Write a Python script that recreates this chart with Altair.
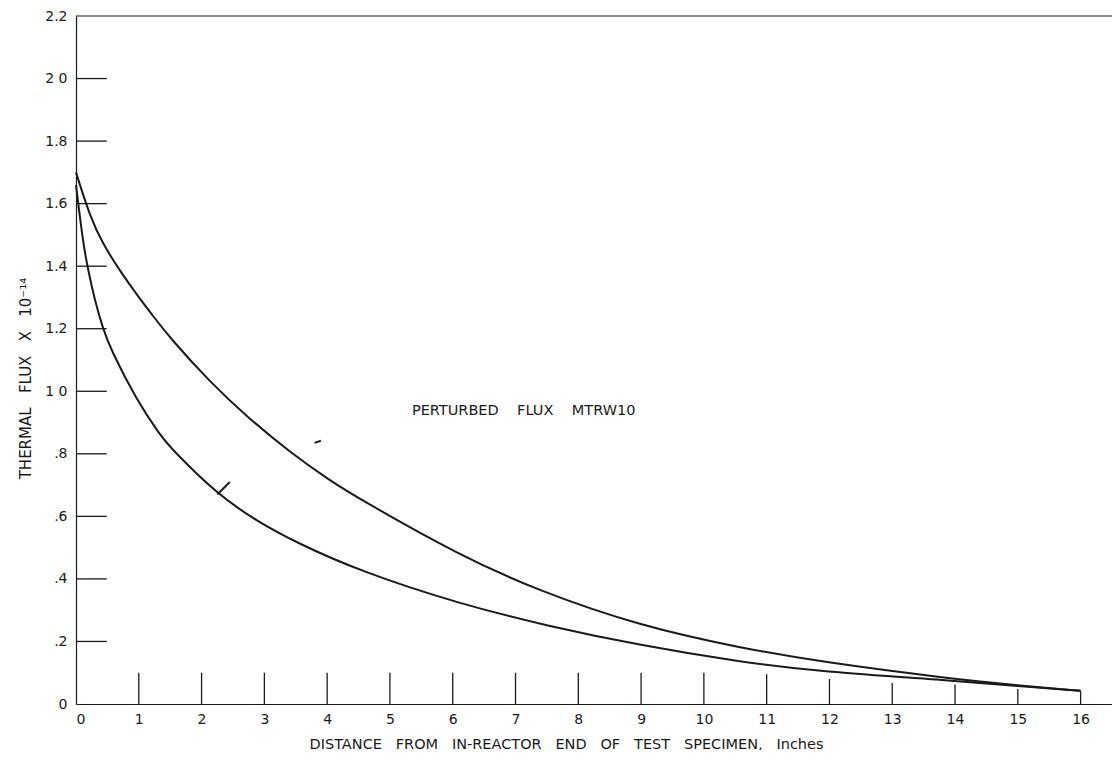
import altair as alt
import pandas as pd

# ---- data ----
upper_x = [0, 0.22, 0.43, 0.7, 1.0, 1.23, 1.5, 2.13, 2.77, 3.41, 4.04, 4.52, 6.11, 7.39, 8.98, 10.57, 11.85, 13.97, 15.0, 16.0]
upper_y = [1.70, 1.56, 1.47, 1.385, 1.30, 1.24, 1.17, 1.03, 0.91, 0.805, 0.715, 0.655, 0.475, 0.36, 0.25, 0.18, 0.135, 0.08, 0.06, 0.042]

lower_x = [0, 0.06, 0.12, 0.18, 0.30, 0.43, 0.55, 0.97, 1.34, 1.50, 2.25, 2.88, 3.52, 4.52, 6.11, 7.5, 8.98, 10.57, 11.85, 13.97, 15.0, 16.0]
lower_y = [1.66, 1.56, 1.47, 1.40, 1.29, 1.20, 1.135, 0.97, 0.86, 0.82, 0.67, 0.585, 0.515, 0.425, 0.32, 0.25, 0.188, 0.135, 0.103, 0.075, 0.057, 0.042]

x_tick_values = [1, 2, 3, 4, 5, 6, 7, 8, 9, 10, 11, 12, 13, 14, 15, 16]
x_tick_tops = [0.1, 0.1, 0.1, 0.1, 0.1, 0.1, 0.1, 0.1, 0.1, 0.1, 0.095, 0.08, 0.067, 0.062, 0.048, 0.04]
x_label_values = [0, 1, 2, 3, 4, 5, 6, 7, 8, 9, 10, 11, 12, 13, 14, 15, 16]

y_tick_values = [0, 0.2, 0.4, 0.6, 0.8, 1.0, 1.2, 1.4, 1.6, 1.8, 2.0, 2.2]
y_tick_labels = ["0", ".2", ".4", ".6", ".8", "1 0", "1.2", "1.4", "1.6", "1.8", "2 0", "2.2"]
y_inner_ticks = [0.2, 0.4, 0.6, 0.8, 1.0, 1.2, 1.4, 1.6, 1.8, 2.0]

NB = "\u00a0"
x_title_words = ["DISTANCE", "FROM", "IN-REACTOR", "END", "OF", "TEST", "SPECIMEN,", "Inches"]
y_title_words = ["THERMAL", "FLUX", "X", "10⁻¹⁴"]
annotation_words = ["PERTURBED", "FLUX", "MTRW10"]
annotation_x = [5.35]
annotation_y = [0.936]

# small stray marks on the drawing (arrow on lower curve, dash near upper curve)
mark_x1 = [2.25, 3.80]
mark_y1 = [0.67, 0.835]
mark_x2 = [2.45, 3.90]
mark_y2 = [0.71, 0.842]

FONT = "DejaVu Sans"
INK = "#1a1a1a"

curves = pd.DataFrame(
    {"x": upper_x + lower_x,
     "y": upper_y + lower_y,
     "series": ["upper"] * len(upper_x) + ["lower"] * len(lower_x)}
)

label_expr = "[" + ",".join("'" + s + "'" for s in y_tick_labels) + "][round(datum.value*5)]"

xscale = alt.Scale(domain=[0, 16.5], nice=False, zero=False)
yscale = alt.Scale(domain=[0, 2.2], nice=False)

xaxis = alt.Axis(
    values=x_label_values, format="d", ticks=False, grid=False, domainColor=INK, domainWidth=1.2,
    labelFont=FONT, labelFontSize=14, labelColor=INK, labelPadding=8,
    title=(NB * 3).join(x_title_words),
    titleFont=FONT, titleFontSize=14.5, titleFontWeight="normal", titleColor=INK,
    titleX=490, titleY=40, titleAlign="center", titleBaseline="middle",
)
yaxis = alt.Axis(
    values=y_tick_values, ticks=False, grid=False, domainColor=INK, domainWidth=1.2,
    labelFont=FONT, labelFontSize=14, labelColor=INK, labelPadding=9,
    labelExpr=label_expr,
    title=(NB * 3).join(y_title_words),
    titleFont=FONT, titleFontSize=15, titleFontWeight="normal", titleColor=INK,
    titleAngle=-90, titleX=-51, titleY=362, titleAlign="center", titleBaseline="middle",
)

lines = alt.Chart(curves).mark_line(color=INK, strokeWidth=2, interpolate="basis").encode(
    x=alt.X("x:Q", scale=xscale, axis=xaxis),
    y=alt.Y("y:Q", scale=yscale, axis=yaxis),
    detail="series:N",
)

ytick_df = pd.DataFrame({"y": y_inner_ticks, "x0": [0] * len(y_inner_ticks), "x1": [0.49] * len(y_inner_ticks)})
yticks = alt.Chart(ytick_df).mark_rule(color=INK, strokeWidth=1.3).encode(
    x=alt.X("x0:Q", scale=xscale), x2="x1:Q", y=alt.Y("y:Q", scale=yscale)
)

xtick_df = pd.DataFrame({"x": x_tick_values, "y0": [0] * len(x_tick_values), "y1": x_tick_tops})
xticks = alt.Chart(xtick_df).mark_rule(color=INK, strokeWidth=1.3).encode(
    x=alt.X("x:Q", scale=xscale), y=alt.Y("y0:Q", scale=yscale), y2="y1:Q"
)

top_border = alt.Chart(pd.DataFrame({"y": [2.2]})).mark_rule(color=INK, strokeWidth=1.2).encode(
    y=alt.Y("y:Q", scale=yscale)
)

text = alt.Chart(pd.DataFrame({"x": annotation_x, "y": annotation_y,
                               "t": [(NB * 4).join(annotation_words)]})).mark_text(
    align="left", baseline="middle", font=FONT, fontSize=14.5, color=INK
).encode(x=alt.X("x:Q", scale=xscale), y=alt.Y("y:Q", scale=yscale), text="t:N")

strays = alt.Chart(pd.DataFrame({"x1": mark_x1, "y1": mark_y1, "x2": mark_x2, "y2": mark_y2})).mark_rule(
    color=INK, strokeWidth=2
).encode(x=alt.X("x1:Q", scale=xscale), y=alt.Y("y1:Q", scale=yscale), x2="x2:Q", y2="y2:Q")

chart = alt.layer(top_border, yticks, xticks, lines, strays, text).properties(
    width=1036, height=688,
    autosize=alt.AutoSizeParams(type="none"),
    padding={"left": 68, "top": 8, "right": 0, "bottom": 46},
    background="white",
).configure_view(strokeWidth=0)

chart.save("out.html", embed_options={"renderer": "svg", "actions": False})
